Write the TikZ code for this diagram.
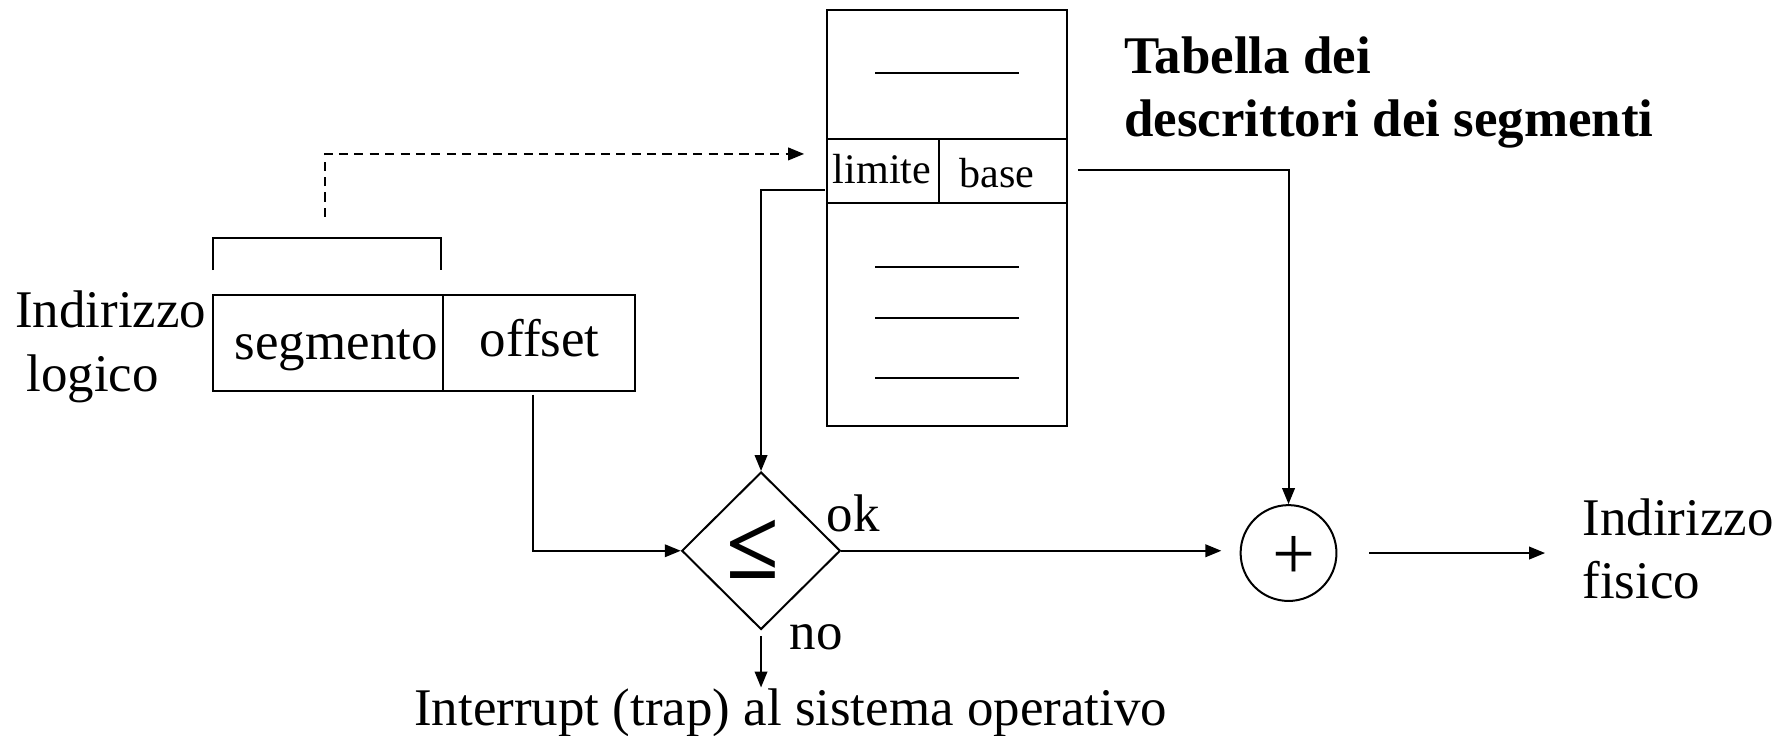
\documentclass[tikz,border=0pt]{standalone}
\usepackage{fontspec}
\setmainfont{Liberation Serif}
\usetikzlibrary{arrows.meta,shapes.geometric}
\begin{document}
\begin{tikzpicture}[x=0.01cm,y=-0.01cm, line width=0.5pt,
  txt/.style={inner sep=0pt, anchor=base west, font=\fontsize{13.2}{15.8}\selectfont, align=left},
  small/.style={inner sep=0pt, anchor=base west, font=\fontsize{10.5}{12}\selectfont},
  arr/.style={-{Triangle[length=0.14cm,width=0.11cm]}},
  dsh/.style={dash pattern=on 0.08cm off 0.055cm},
  cell/.style={draw, inner sep=0pt}]
\useasboundingbox (0,0) rectangle (1568,645.4);

% segment descriptor table
\node[cell, minimum width=2.105cm, minimum height=3.645cm] (tab) at (830.45,191.25) {};
\draw (725.2,121.5) -- (935.7,121.5) (725.2,177.9) -- (935.7,177.9) (823.2,121.5) -- (823.2,177.9);
\draw (767.6,63.8) -- (893.2,63.8) (767.6,233.9) -- (893.2,233.9)
      (767.6,278.8) -- (893.2,278.8) (767.6,331.5) -- (893.2,331.5);
\node[small] (lim) at (729.5,161) {limite};
\node[small] (bas) at (840.6,164) {base};
\node[txt, font=\bfseries\fontsize{13.2}{15.8}\selectfont] (title) at (985,120) {Tabella dei\\descrittori dei segmenti};

% logical address
\node[txt] (logaddr) at (12.5,343) {Indirizzo\\\hspace*{2.8pt}logico};
\node[cell, minimum width=2.021cm, minimum height=0.84cm] (seg) at (287.55,300.6) {};
\node[cell, minimum width=1.68cm, minimum height=0.84cm] (off) at (472.6,300.6) {};
\node[txt] (segt) at (205,315) {segmento};
\node[txt] (offt) at (420,313) {offset};
\draw (186.5,236.8) -- (186.5,208.8) -- (386.6,208.8) -- (386.6,236.8);
\coordinate (brk) at (285,190.3);
\coordinate (tabin) at (705.2,135);
\draw[arr, dsh] (brk) |- (tabin);

% comparison
\node[draw, diamond, inner sep=0pt, minimum width=1.39cm, minimum height=1.38cm] (dia) at (667.4,483) {};
\node[inner sep=0pt, font=\bfseries\fontsize{24}{24}\selectfont] (le) at (660,481.8) {≤};
\node[txt] (ok) at (724,466) {ok};
\node[txt] (no) at (691.7,570) {no};
\node[txt] (trap) at (362.5,636) {Interrupt (trap) al sistema operativo};

% adder
\node[draw, circle, minimum size=0.84cm, inner sep=0pt] (plus) at (1130,485) {};
\node[inner sep=0pt, font=\fontsize{19}{19}\selectfont] (plust) at (1135,489) {+};
\node[txt] (phys) at (1387,525) {Indirizzo\\fisico};

% connectors
\coordinate (offout) at (467.6,346);
\coordinate (limout) at (723.7,166.8);
\coordinate (baseout) at (945.3,149);
\draw[arr] (offout) |- (dia.west);
\draw[arr] (limout) -| (dia.north);
\draw[arr] (baseout) -| (plus.north);
\draw[arr, shorten >=0.16cm] (dia.east) -- (dia.east -| plus.west);
\draw[arr, shorten <=0.28cm, shorten >=0.32cm] (plus.east) -- (plus.east -| phys.west);
\draw[arr, shorten <=0.05cm] (dia.south) -- (dia.south |- trap.north);
\end{tikzpicture}
\end{document}
